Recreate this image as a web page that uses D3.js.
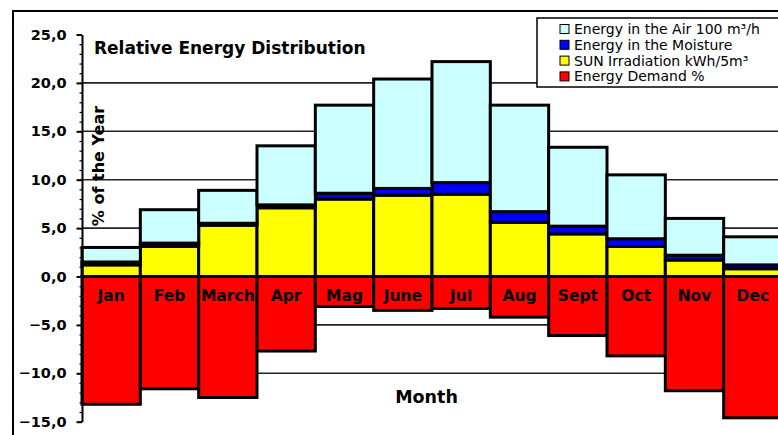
<!DOCTYPE html>
<html>
<head>
<meta charset="utf-8">
<script src="https://cdn.jsdelivr.net/npm/d3@7"></script>
<style>
  html, body { margin: 0; padding: 0; background: #fff; }
  svg { display: block; }
</style>
</head>
<body>
<script>
// Monthly shares (% of the year)
const months = ["Jan", "Feb", "March", "Apr", "Mag", "June", "Jul", "Aug", "Sept", "Oct", "Nov", "Dec"];
const sunIrradiation = [1.2, 3.1, 5.3, 7.1, 8.0, 8.4, 8.5, 5.6, 4.4, 3.1, 1.7, 0.8];
const moistureEnergy = [0.3, 0.35, 0.2, 0.3, 0.6, 0.7, 1.2, 1.1, 0.8, 0.8, 0.5, 0.4];
const airEnergy = [1.5, 3.45, 3.4, 6.1, 9.1, 11.3, 12.5, 11.0, 8.15, 6.6, 3.8, 2.9];
const energyDemand = [-13.2, -11.6, -12.5, -7.7, -3.1, -3.5, -3.3, -4.2, -6.1, -8.2, -11.8, -14.6];
const yTicks = [-15, -10, -5, 0, 5, 10, 15, 20, 25];
const gridValues = [-10, -5, 5, 10, 15, 20];

const seriesKeys = ["sun", "moisture", "air"];
const seriesColor = { sun: "#ffff00", moisture: "#0000ff", air: "#ccffff", demand: "#ff0000" };
const legendItems = [
  { key: "air", label: "Energy in the Air 100 m³/h" },
  { key: "moisture", label: "Energy in the Moisture" },
  { key: "sun", label: "SUN Irradiation kWh/5m³" },
  { key: "demand", label: "Energy Demand %" }
];

const W = 778, H = 435;
const svg = d3.select("body").append("svg").attr("width", W).attr("height", H);

const x = d3.scaleBand().domain(months).range([82, 782]).padding(0);
const y = d3.scaleLinear().domain([-15, 25]).range([421.7, 34.5]);

const rows = months.map((m, i) => ({
  month: m, sun: sunIrradiation[i], moisture: moistureEnergy[i], air: airEnergy[i], demand: energyDemand[i]
}));
const stacked = d3.stack().keys(seriesKeys)(rows);

// outer frame
svg.append("path")
  .attr("d", `M13,${H} L13,11 L${W},11`)
  .attr("fill", "none").attr("stroke", "#000").attr("stroke-width", 2);

// gridlines
svg.append("g").selectAll("line").data(gridValues).join("line")
  .attr("x1", 82).attr("x2", W)
  .attr("y1", d => y(d)).attr("y2", d => y(d))
  .attr("stroke", "#222").attr("stroke-width", 1.6);

const barStroke = 3;

// energy demand (negative bars)
svg.append("g").selectAll("rect").data(rows).join("rect")
  .attr("x", d => x(d.month))
  .attr("width", x.bandwidth())
  .attr("y", y(0))
  .attr("height", d => y(d.demand) - y(0))
  .attr("fill", seriesColor.demand)
  .attr("stroke", "#000").attr("stroke-width", barStroke);

// stacked supply segments
svg.append("g").selectAll("g").data(stacked).join("g")
  .attr("fill", s => seriesColor[s.key])
  .selectAll("rect").data(s => s).join("rect")
  .attr("x", d => x(d.data.month))
  .attr("width", x.bandwidth())
  .attr("y", d => y(d[1]))
  .attr("height", d => y(d[0]) - y(d[1]))
  .attr("stroke", "#000").attr("stroke-width", barStroke);

// month labels inside the demand bars
svg.append("g").selectAll("text").data(months).join("text")
  .attr("x", d => x(d) + x.bandwidth() / 2)
  .attr("y", 301)
  .attr("text-anchor", "middle")
  .attr("font-family", "DejaVu Sans")
  .attr("font-weight", "bold")
  .attr("font-size", "15.5px")
  .attr("fill", "#000")
  .text(d => d);

// y axis
const fmt = v => d3.format(".1f")(v).replace(".", ",");
const minorAxis = svg.append("g").attr("transform", "translate(82,0)")
  .call(d3.axisLeft(y).tickValues(d3.range(-15, 25.01, 1)).tickSize(2.5).tickSizeOuter(0).tickFormat(""));
minorAxis.select(".domain").remove();
minorAxis.selectAll("line").attr("stroke", "#000").attr("stroke-width", 1.2);

const yAxis = svg.append("g").attr("transform", "translate(82,0)")
  .call(d3.axisLeft(y).tickValues(yTicks).tickSize(5.5).tickSizeOuter(0).tickPadding(10).tickFormat(fmt));
yAxis.select(".domain").attr("stroke", "#000").attr("stroke-width", 2);
yAxis.selectAll(".tick line").attr("stroke", "#000").attr("stroke-width", 2);
yAxis.selectAll(".tick text")
  .attr("font-family", "DejaVu Sans")
  .attr("font-weight", "bold")
  .attr("font-size", "14.5px")
  .attr("fill", "#000");

// titles
svg.append("text")
  .attr("x", 94).attr("y", 54)
  .attr("font-family", "DejaVu Sans").attr("font-weight", "bold").attr("font-size", "17px")
  .attr("fill", "#000")
  .text("Relative Energy Distribution");

svg.append("text")
  .attr("transform", "translate(104,166) rotate(-90)")
  .attr("text-anchor", "middle")
  .attr("font-family", "DejaVu Sans").attr("font-weight", "bold").attr("font-size", "16px")
  .attr("fill", "#000")
  .text("% of the Year");

svg.append("text")
  .attr("x", 426.5).attr("y", 403)
  .attr("text-anchor", "middle")
  .attr("font-family", "DejaVu Sans").attr("font-weight", "bold").attr("font-size", "17.5px")
  .attr("fill", "#000")
  .text("Month");

// legend
const legend = svg.append("g");
legend.append("rect")
  .attr("x", 537).attr("y", 18).attr("width", 260).attr("height", 69)
  .attr("fill", "#fff").attr("stroke", "#000").attr("stroke-width", 1.5);
const item = legend.selectAll("g.item").data(legendItems).join("g")
  .attr("class", "item")
  .attr("transform", (d, i) => `translate(0,${29 + i * 15.8})`);
item.append("rect")
  .attr("x", 560).attr("y", -4.5).attr("width", 9).attr("height", 9)
  .attr("fill", d => seriesColor[d.key]).attr("stroke", "#000").attr("stroke-width", 1);
item.append("text")
  .attr("x", 574).attr("y", 0).attr("dy", "0.36em")
  .attr("font-family", "DejaVu Sans").attr("font-size", "14px")
  .attr("fill", "#000")
  .text(d => d.label);
</script>
</body>
</html>
